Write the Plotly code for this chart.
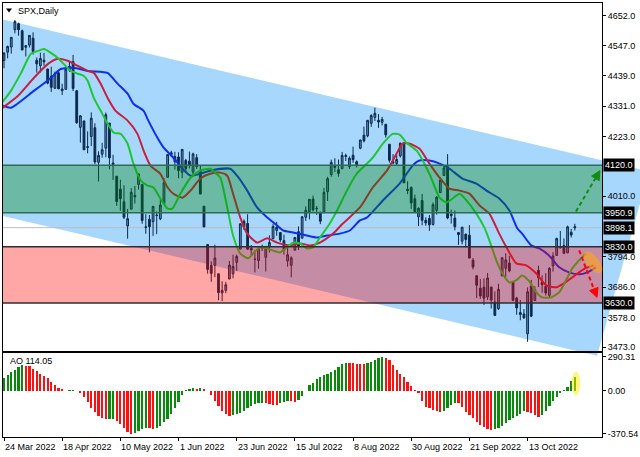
import math
import plotly.graph_objects as go

# ---------------- data ----------------
DATES = [
    "2022-03-24", "2022-03-25", "2022-03-28", "2022-03-29", "2022-03-30", "2022-03-31", "2022-04-01",
    "2022-04-04", "2022-04-05", "2022-04-06", "2022-04-07", "2022-04-08", "2022-04-11", "2022-04-12",
    "2022-04-13", "2022-04-14", "2022-04-18", "2022-04-19", "2022-04-20", "2022-04-21", "2022-04-22",
    "2022-04-25", "2022-04-26", "2022-04-27", "2022-04-28", "2022-04-29", "2022-05-02", "2022-05-03",
    "2022-05-04", "2022-05-05", "2022-05-06", "2022-05-09", "2022-05-10", "2022-05-11", "2022-05-12",
    "2022-05-13", "2022-05-16", "2022-05-17", "2022-05-18", "2022-05-19", "2022-05-20", "2022-05-23",
    "2022-05-24", "2022-05-25", "2022-05-26", "2022-05-27", "2022-05-30", "2022-05-31", "2022-06-01",
    "2022-06-02", "2022-06-03", "2022-06-06", "2022-06-07", "2022-06-08", "2022-06-09", "2022-06-10",
    "2022-06-13", "2022-06-14", "2022-06-15", "2022-06-16", "2022-06-17", "2022-06-20", "2022-06-21",
    "2022-06-22", "2022-06-23", "2022-06-24", "2022-06-27", "2022-06-28", "2022-06-29", "2022-06-30",
    "2022-07-01", "2022-07-04", "2022-07-05", "2022-07-06", "2022-07-07", "2022-07-08", "2022-07-11",
    "2022-07-12", "2022-07-13", "2022-07-14", "2022-07-15", "2022-07-18", "2022-07-19", "2022-07-20",
    "2022-07-21", "2022-07-22", "2022-07-25", "2022-07-26", "2022-07-27", "2022-07-28", "2022-07-29",
    "2022-08-01", "2022-08-02", "2022-08-03", "2022-08-04", "2022-08-05", "2022-08-08", "2022-08-09",
    "2022-08-10", "2022-08-11", "2022-08-12", "2022-08-15", "2022-08-16", "2022-08-17", "2022-08-18",
    "2022-08-19", "2022-08-22", "2022-08-23", "2022-08-24", "2022-08-25", "2022-08-26", "2022-08-29",
    "2022-08-30", "2022-08-31", "2022-09-01", "2022-09-02", "2022-09-05", "2022-09-06", "2022-09-07",
    "2022-09-08", "2022-09-09", "2022-09-12", "2022-09-13", "2022-09-14", "2022-09-15", "2022-09-16",
    "2022-09-19", "2022-09-20", "2022-09-21", "2022-09-22", "2022-09-23", "2022-09-26", "2022-09-27",
    "2022-09-28", "2022-09-29", "2022-09-30", "2022-10-03", "2022-10-04", "2022-10-05", "2022-10-06",
    "2022-10-07", "2022-10-10", "2022-10-11", "2022-10-12", "2022-10-13", "2022-10-14", "2022-10-17",
    "2022-10-18", "2022-10-19", "2022-10-20", "2022-10-21", "2022-10-24", "2022-10-25", "2022-10-26",
    "2022-10-27", "2022-10-28", "2022-10-31", "2022-11-01",
]

OPEN = [
    4493.1, 4522.9, 4541.1, 4602.9, 4624.2, 4599.0, 4540.3, 4548.0, 4572.5, 4494.2, 4474.7, 4494.2,
    4462.6, 4437.6, 4394.3, 4449.1, 4385.6, 4390.6, 4472.3, 4489.2, 4385.8, 4255.3, 4278.1, 4186.5,
    4222.6, 4253.8, 4130.6, 4159.8, 4181.2, 4270.4, 4128.2, 4081.3, 4035.2, 3990.1, 3904.0, 3963.9,
    4013.0, 4052.0, 4052.0, 3899.0, 3927.8, 3919.4, 3942.9, 3929.6, 3984.6, 4077.4, 4158.2, 4151.1,
    4149.8, 4095.4, 4137.6, 4134.7, 4096.5, 4147.1, 4101.7, 3974.4, 3838.2, 3763.5, 3764.1, 3733.9,
    3665.9, 3675.0, 3715.3, 3733.9, 3774.7, 3821.8, 3920.8, 3913.0, 3825.1, 3786.0, 3781.0, 3825.3,
    3792.6, 3832.0, 3858.9, 3888.3, 3880.9, 3852.0, 3779.7, 3764.0, 3818.0, 3883.8, 3860.7, 3935.3,
    3955.5, 4000.0, 3965.7, 3953.2, 3951.4, 4026.1, 4087.3, 4112.4, 4104.2, 4108.0, 4154.9, 4115.9,
    4155.9, 4133.1, 4181.0, 4227.4, 4225.0, 4269.4, 4290.5, 4280.4, 4273.1, 4266.3, 4195.1, 4133.1,
    4126.6, 4153.3, 4198.7, 4034.6, 4041.3, 4000.7, 3936.7, 3994.7, 3924.3, 3930.9, 3909.4, 3959.9,
    4022.9, 4083.7, 4115.0, 3940.7, 3932.4, 3881.0, 3849.9, 3875.2, 3871.4, 3782.4, 3727.1, 3682.7,
    3686.4, 3651.9, 3687.0, 3633.5, 3609.8, 3726.5, 3753.3, 3772.0, 3706.7, 3647.5, 3595.9, 3590.8,
    3520.4, 3690.4, 3638.7, 3746.3, 3703.1, 3689.1, 3657.1, 3762.0, 3799.4, 3826.0, 3834.7, 3808.3,
    3881.9, 3901.8,
]
HIGH = [
    4520.6, 4546.0, 4575.7, 4637.3, 4627.8, 4603.1, 4548.7, 4583.5, 4593.5, 4503.9, 4521.2, 4520.4,
    4464.4, 4471.0, 4453.9, 4460.5, 4410.3, 4471.5, 4488.3, 4512.9, 4385.8, 4299.0, 4278.1, 4240.7,
    4308.5, 4269.7, 4169.8, 4200.1, 4307.7, 4270.4, 4157.7, 4081.3, 4068.8, 4049.1, 3964.8, 4038.9,
    4046.5, 4090.7, 4052.0, 3946.0, 3943.4, 3975.5, 3955.7, 3999.3, 4075.1, 4158.5, 4172.0, 4168.3,
    4166.5, 4177.5, 4142.7, 4168.8, 4164.9, 4160.1, 4119.1, 3974.4, 3838.2, 3778.2, 3837.6, 3733.9,
    3707.7, 3705.0, 3779.7, 3801.8, 3802.6, 3913.7, 3927.7, 3945.9, 3836.5, 3818.0, 3829.8, 3838.0,
    3832.2, 3870.9, 3910.6, 3918.5, 3880.9, 3873.4, 3829.4, 3796.4, 3863.6, 3902.4, 3939.8, 3974.1,
    3999.3, 4012.4, 3975.3, 3953.2, 4039.6, 4079.0, 4140.2, 4145.0, 4140.5, 4167.7, 4161.3, 4151.6,
    4186.6, 4137.3, 4211.0, 4257.9, 4280.5, 4301.8, 4325.3, 4302.2, 4292.5, 4266.3, 4195.1, 4159.8,
    4156.6, 4200.5, 4203.0, 4063.0, 4045.0, 4015.4, 3970.2, 4018.4, 3935.0, 3942.6, 3987.9, 4010.5,
    4076.8, 4119.3, 4160.0, 3961.9, 3959.1, 3881.0, 3900.4, 3876.0, 3907.1, 3790.3, 3727.1, 3715.7,
    3717.5, 3736.7, 3687.0, 3671.4, 3698.4, 3791.9, 3806.9, 3797.9, 3706.7, 3652.2, 3640.7, 3608.3,
    3685.4, 3712.0, 3689.7, 3762.8, 3728.6, 3736.0, 3757.9, 3810.7, 3862.8, 3886.2, 3860.0, 3905.4,
    3893.7, 3911.8,
]
LOW = [
    4465.4, 4501.1, 4517.7, 4589.7, 4581.3, 4530.4, 4507.6, 4539.2, 4514.2, 4450.0, 4450.3, 4474.6,
    4408.4, 4381.3, 4392.7, 4390.8, 4370.3, 4390.6, 4452.7, 4384.5, 4267.6, 4200.8, 4175.0, 4162.9,
    4188.6, 4124.3, 4062.5, 4147.1, 4148.9, 4106.0, 4067.9, 3975.5, 3958.2, 3928.8, 3858.9, 3963.9,
    3984.0, 4033.9, 3911.9, 3876.6, 3810.3, 3868.9, 3875.1, 3925.0, 3984.6, 4077.4, 4150.0, 4104.9,
    4073.9, 4074.4, 4098.7, 4109.2, 4080.2, 4107.2, 4017.2, 3900.2, 3734.3, 3705.7, 3722.3, 3639.8,
    3636.9, 3665.0, 3715.3, 3717.7, 3743.5, 3821.8, 3889.7, 3820.1, 3799.0, 3738.7, 3752.1, 3815.0,
    3742.1, 3809.4, 3858.9, 3869.3, 3847.2, 3802.4, 3759.1, 3721.6, 3817.2, 3818.6, 3860.7, 3922.0,
    3927.6, 3955.8, 3943.5, 3910.7, 3951.4, 3993.0, 4079.2, 4096.0, 4079.8, 4108.0, 4135.4, 4107.3,
    4129.0, 4112.1, 4177.3, 4201.4, 4219.8, 4256.9, 4277.8, 4253.1, 4262.0, 4218.7, 4129.9, 4124.0,
    4120.0, 4147.6, 4057.7, 4017.4, 3965.2, 3954.5, 3903.7, 3906.2, 3905.0, 3886.8, 3906.0, 3944.8,
    4022.9, 4083.7, 3928.0, 3912.6, 3888.3, 3837.1, 3838.5, 3827.5, 3789.5, 3749.5, 3647.5, 3644.8,
    3623.3, 3640.6, 3610.4, 3584.1, 3604.9, 3726.5, 3722.7, 3739.2, 3636.2, 3588.1, 3568.5, 3573.9,
    3491.6, 3579.7, 3638.7, 3686.5, 3666.5, 3656.4, 3647.4, 3741.7, 3799.4, 3824.1, 3803.8, 3808.3,
    3863.2, 3888.0,
]
CLOSE = [
    4520.2, 4543.1, 4575.5, 4631.6, 4602.5, 4530.4, 4545.9, 4582.6, 4525.1, 4481.2, 4500.2, 4488.3,
    4412.5, 4397.5, 4446.6, 4392.6, 4391.7, 4462.2, 4459.5, 4393.7, 4271.8, 4296.1, 4175.2, 4184.0,
    4287.5, 4131.9, 4155.4, 4175.5, 4300.2, 4146.9, 4123.3, 3991.2, 4001.1, 3935.2, 3930.1, 4023.9,
    4008.0, 4088.9, 3923.7, 3900.8, 3901.4, 3973.8, 3941.5, 3978.7, 4057.8, 4158.2, 4165.0, 4132.2,
    4101.2, 4176.8, 4108.5, 4121.4, 4160.7, 4115.8, 4017.8, 3900.9, 3749.6, 3735.5, 3790.0, 3666.8,
    3674.8, 3695.0, 3764.8, 3759.9, 3795.7, 3911.7, 3900.1, 3821.6, 3818.8, 3785.4, 3825.3, 3830.0,
    3831.4, 3845.1, 3902.6, 3899.4, 3854.4, 3818.8, 3801.8, 3790.4, 3863.2, 3830.9, 3936.7, 3959.9,
    3999.0, 3961.6, 3966.8, 3921.1, 4023.6, 4072.4, 4130.3, 4118.6, 4091.2, 4155.2, 4151.9, 4145.2,
    4140.1, 4122.5, 4210.2, 4207.3, 4280.2, 4297.1, 4305.2, 4274.0, 4283.7, 4228.5, 4138.0, 4128.7,
    4140.8, 4199.1, 4057.7, 4030.6, 3986.2, 3955.0, 3966.9, 3924.3, 3915.0, 3908.2, 3979.9, 4006.2,
    4067.4, 4110.4, 3932.7, 3946.0, 3901.4, 3873.3, 3899.9, 3855.9, 3789.9, 3758.0, 3693.2, 3655.0,
    3647.3, 3719.0, 3640.5, 3585.6, 3678.4, 3790.9, 3783.3, 3744.5, 3639.7, 3612.4, 3588.8, 3577.0,
    3669.9, 3583.1, 3678.0, 3720.0, 3695.2, 3665.8, 3752.8, 3797.3, 3859.1, 3830.6, 3807.3, 3901.1,
    3872.0, 3898.1,
]

AO = [
    108, 136, 160, 180, 200, 215, 214, 208, 188, 168, 146, 126, 104, 75, 47, 24, 10, -3, 3, 8,
    -2, -24, -58, -100, -145, -185, -215, -235, -245, -242, -240, -258, -285, -320, -350, -370.54,
    -362, -345, -330, -318, -322, -324, -318, -300, -272, -240, -200, -150, -95, -40, 8, 15, 20, 18,
    25, 10, -5, -38, -85, -132, -175, -203, -217, -212, -203, -189, -170, -151, -132, -118, -109,
    -104, -109, -115, -121, -123, -109, -94, -85, -90, -94, -76, -47, -5, 47, 67, 95, 112, 132, 146,
    160, 180, 203, 226, 240, 237, 235, 231, 226, 223, 233, 248, 262, 276, 290.31, 282, 260, 217,
    180, 146, 112, 75, 38, 5, -24, -87, -138, -152, -166, -175, -180, -172, -152, -124, -104, -109,
    -138, -180, -209, -237, -266, -294, -314, -330, -337, -330, -318, -300, -278, -255, -235, -213,
    -196, -172, -180, -195, -209, -223, -205, -170, -130, -90, -55, -22, 2, 33, 80, 114.05,
]

# Alligator lines: (bar index, price)
JAW = [
    (-0.3, 4332), (1.9, 4325), (8.2, 4385), (12.9, 4431), (15.6, 4463), (19.2, 4467), (23.0, 4456),
    (26.6, 4453), (28.5, 4449), (31.3, 4410), (34.0, 4375), (35.6, 4339), (38.4, 4314), (39.7, 4279),
    (42.2, 4218), (43.9, 4183), (46.6, 4147), (49.1, 4108), (51.3, 4083), (54.0, 4090), (56.7, 4101),
    (62.2, 4108), (64.1, 4083), (66.9, 4030), (69.6, 3970), (72.4, 3934), (75.1, 3906), (76.8, 3888),
    (79.5, 3881), (83.3, 3870), (86.1, 3863), (88.8, 3870), (92.4, 3877), (95.1, 3888), (97.9, 3924),
    (99.8, 3934), (104.2, 3995), (108.8, 4055), (112.4, 4119), (114.3, 4137), (117.0, 4137),
    (119.8, 4126), (122.5, 4108), (126.1, 4073), (129.9, 4055), (132.7, 4030), (136.2, 4002),
    (139.0, 3959), (141.2, 3895), (142.5, 3877), (145.0, 3835), (147.2, 3824), (149.9, 3799),
    (152.7, 3757), (155.4, 3739), (158.2, 3732), (160.4, 3739), (162.8, 3757),
]
TEETH = [
    (-0.8, 4321), (3.8, 4367), (8.2, 4431), (12.1, 4481), (14.8, 4499), (17.5, 4492), (20.3, 4474),
    (23.0, 4456), (24.7, 4449), (26.6, 4410), (28.5, 4360), (30.7, 4314), (34.0, 4279), (36.7, 4232),
    (38.4, 4172), (40.3, 4119), (43.0, 4090), (45.0, 4041), (46.6, 4019), (49.1, 4005), (51.3, 4030),
    (54.0, 4073), (56.7, 4090), (59.5, 4094), (61.4, 4083), (63.0, 4019), (65.0, 3934), (66.9, 3877),
    (69.6, 3845), (72.4, 3860), (75.1, 3845), (78.7, 3835), (81.4, 3842), (84.2, 3835), (86.9, 3845),
    (90.5, 3877), (93.2, 3913), (97.9, 3970), (101.4, 4041), (105.3, 4101), (108.0, 4162),
    (109.6, 4197), (111.6, 4197), (114.3, 4179), (117.0, 4126), (119.8, 4076), (122.5, 4037),
    (125.3, 4030), (128.0, 4019), (130.8, 3977), (133.5, 3948), (135.4, 3899), (136.2, 3877),
    (138.2, 3828), (140.9, 3771), (143.6, 3764), (146.4, 3735), (149.1, 3693), (151.9, 3686),
    (154.0, 3700), (157.0, 3728), (159.8, 3753), (162.2, 3764),
]
LIPS = [
    (-0.8, 4339), (1.9, 4385), (4.7, 4449), (7.4, 4517), (9.3, 4527), (11.0, 4534), (12.9, 4520),
    (14.8, 4502), (16.4, 4481), (18.4, 4456), (20.3, 4446), (21.9, 4439), (23.0, 4421), (24.7, 4360),
    (26.6, 4314), (28.5, 4268), (30.2, 4236), (32.1, 4232), (34.0, 4197), (35.6, 4126), (37.6, 4066),
    (39.5, 4048), (41.1, 4041), (43.0, 4002), (45.0, 3966), (46.3, 3966), (48.5, 4019), (51.3, 4076),
    (54.0, 4101), (56.7, 4108), (58.1, 4094), (59.5, 4076), (61.4, 3970), (63.0, 3870), (65.0, 3806),
    (67.2, 3789), (68.5, 3806), (70.4, 3828), (72.4, 3824), (75.9, 3810), (77.9, 3828), (79.5, 3845),
    (81.4, 3842), (83.3, 3824), (85.0, 3828), (86.9, 3863), (89.6, 3913), (91.6, 3959), (94.3, 4030),
    (97.0, 4090), (101.4, 4147), (104.2, 4197), (106.9, 4232), (108.8, 4229), (110.7, 4200),
    (113.5, 4172), (117.0, 4090), (119.8, 4005), (121.7, 3988), (123.4, 4002), (125.3, 4019),
    (127.2, 3995), (129.9, 3948), (132.1, 3899), (133.5, 3853), (135.4, 3782), (137.1, 3735),
    (139.0, 3703), (140.9, 3711), (142.5, 3728), (144.5, 3707), (146.4, 3668), (148.0, 3650),
    (150.5, 3650), (152.7, 3668), (154.6, 3711), (156.3, 3753), (158.2, 3782), (160.1, 3806),
]

PRICE_TICKS = [4652, 4547, 4439, 4331, 4223, 4010, 3794, 3686, 3578, 3473]
DATE_LABELS = ["24 Mar 2022", "18 Apr 2022", "10 May 2022", "1 Jun 2022", "23 Jun 2022",
               "15 Jul 2022", "8 Aug 2022", "30 Aug 2022", "21 Sep 2022", "13 Oct 2022"]
LABEL_DATES = ["2022-03-24", "2022-04-18", "2022-05-10", "2022-06-01", "2022-06-23",
               "2022-07-15", "2022-08-08", "2022-08-30", "2022-09-21", "2022-10-13"]
GREEN_ZONE = (3950.9, 4120.0)
RED_ZONE = (3630.0, 3830.0)
CURRENT_PRICE = 3898.1

# drawn objects (bar index, price)
CHANNEL_UPPER = [(-0.27, 4639.2), (177.4, 4098.3)]
CHANNEL_LOWER = [(-0.27, 3939.6), (163.1, 3442.4)]
UP_ARROW = [(157.3, 3956), (163.9, 4101)]
DOWN_ARROW = [(158.2, 3817), (163.1, 3650)]
FOCUS_PRICE = (162.0, 3774.5)
FOCUS_AO = (157.3, 61)

# ---------------- geometry ----------------
W, H = 640, 457
L, R, T, B = 2, 603, 2, 437
P_BOTTOM, AO_TOP = 351, 352.5
XMIN, XMAX = -0.274, 164.47
PMIN, PMAX = 3458.4, 4697.8
AMIN, AMAX = -396.2, 323.8
FONT = "Liberation Sans"


def px_x(i):
    return L + (i - XMIN) / (XMAX - XMIN) * (R - L)


def px_y(p):
    return T + (PMAX - p) / (PMAX - PMIN) * (P_BOTTOM - T)


def px_ao(v):
    return AO_TOP + (AMAX - v) / (AMAX - AMIN) * (B - AO_TOP)


def paper(px, py):
    return (px - L) / (R - L), (B - py) / (B - T)


def path_from_px(points, close=True):
    parts = []
    for k, (a, b) in enumerate(points):
        u, v = paper(a, b)
        parts.append(("M" if k == 0 else "L") + f"{u:.5f},{v:.5f}")
    return " ".join(parts) + (" Z" if close else "")


def ellipse_px(cx, cy, ra, rb, ang_deg, n=36):
    a = math.radians(ang_deg)
    pts = []
    for k in range(n):
        t = 2 * math.pi * k / n
        x = ra * math.cos(t)
        y = rb * math.sin(t)
        pts.append((cx + x * math.cos(a) - y * math.sin(a), cy + x * math.sin(a) + y * math.cos(a)))
    return pts


idx = list(range(len(DATES)))
DARK = "#0b2b4d"

fig = go.Figure()

fig.add_trace(go.Candlestick(
    x=idx, open=OPEN, high=HIGH, low=LOW, close=CLOSE,
    increasing=dict(line=dict(color=DARK, width=1), fillcolor="#5c8ab2"),
    decreasing=dict(line=dict(color=DARK, width=1), fillcolor=DARK),
    whiskerwidth=0, xaxis="x", yaxis="y", hoverinfo="skip", showlegend=False,
))

for series, color in ((JAW, "#1030e8"), (TEETH, "#c8203c"), (LIPS, "#1ec832")):
    fig.add_trace(go.Scatter(
        x=[a for a, _ in series], y=[b for _, b in series], mode="lines",
        line=dict(color=color, width=2, shape="spline", smoothing=0.6),
        xaxis="x", yaxis="y", hoverinfo="skip", showlegend=False,
    ))

ao_colors = []
for k, v in enumerate(AO):
    ao_colors.append("#0a8a0a" if k == 0 or v > AO[k - 1] else "#ff1010")
fig.add_trace(go.Bar(
    x=idx, y=AO, marker=dict(color=ao_colors, line=dict(width=0)), width=0.62,
    xaxis="x2", yaxis="y2", hoverinfo="skip", showlegend=False,
))

shapes = []
# channel (extends past the plot frame like in the source)
ch_px = [(px_x(CHANNEL_UPPER[0][0]), px_y(CHANNEL_UPPER[0][1])),
         (px_x(CHANNEL_UPPER[1][0]), px_y(CHANNEL_UPPER[1][1])),
         (px_x(CHANNEL_LOWER[1][0]), px_y(CHANNEL_LOWER[1][1])),
         (px_x(CHANNEL_LOWER[0][0]), px_y(CHANNEL_LOWER[0][1]))]
ch_px = [(max(a, L), b) for a, b in ch_px]
shapes.append(dict(type="path", xref="paper", yref="paper", path=path_from_px(ch_px),
                   fillcolor="#a7d7fd", line=dict(width=0), layer="below"))
# current price line
shapes.append(dict(type="line", xref="x", yref="y", x0=XMIN, x1=XMAX, y0=CURRENT_PRICE, y1=CURRENT_PRICE,
                   line=dict(color="#bdbdbd", width=1), layer="below"))
# zones (translucent overlays)
shapes.append(dict(type="rect", xref="x", yref="y", x0=XMIN, x1=XMAX, y0=GREEN_ZONE[0], y1=GREEN_ZONE[1],
                   fillcolor="rgba(0,128,0,0.35)", line=dict(width=0), layer="above"))
shapes.append(dict(type="rect", xref="x", yref="y", x0=XMIN, x1=XMAX, y0=RED_ZONE[0], y1=RED_ZONE[1],
                   fillcolor="rgba(255,0,0,0.35)", line=dict(width=0), layer="above"))
for lvl in GREEN_ZONE:
    shapes.append(dict(type="line", xref="x", yref="y", x0=XMIN, x1=XMAX, y0=lvl, y1=lvl,
                       line=dict(color="#2d6b52", width=1.5), layer="above"))
for lvl in RED_ZONE:
    shapes.append(dict(type="line", xref="x", yref="y", x0=XMIN, x1=XMAX, y0=lvl, y1=lvl,
                       line=dict(color="#2e2e2e", width=1.5), layer="above"))


def arrow(seg, color):
    (i0, p0), (i1, p1) = seg
    x0, y0, x1, y1 = px_x(i0), px_y(p0), px_x(i1), px_y(p1)
    d = math.hypot(x1 - x0, y1 - y0)
    ux, uy = (x1 - x0) / d, (y1 - y0) / d
    hl, hw = 9.0, 4.5
    bx, by = x1 - hl * ux, y1 - hl * uy
    nx, ny = -uy, ux
    out = [dict(type="path", xref="paper", yref="paper", path=path_from_px([(x0, y0), (bx, by)], close=False),
                line=dict(color=color, width=2, dash="4px,3px"), layer="above"),
           dict(type="path", xref="paper", yref="paper",
                path=path_from_px([(x1, y1), (bx + hw * nx, by + hw * ny), (bx - hw * nx, by - hw * ny)]),
                fillcolor=color, line=dict(color=color, width=1), layer="above")]
    return out


shapes += arrow(UP_ARROW, "#148c14")
shapes += arrow(DOWN_ARROW, "#ff0000")
shapes.append(dict(type="path", xref="paper", yref="paper",
                   path=path_from_px(ellipse_px(px_x(FOCUS_PRICE[0]), px_y(FOCUS_PRICE[1]), 13, 6, 52)),
                   fillcolor="rgba(255,168,20,0.6)", line=dict(width=0), layer="above"))
shapes.append(dict(type="path", xref="paper", yref="paper",
                   path=path_from_px(ellipse_px(px_x(FOCUS_AO[0]), px_ao(FOCUS_AO[1]), 4.3, 11.8, 0)),
                   fillcolor="rgba(255,235,0,0.5)", line=dict(width=0), layer="above"))
# small title triangle
shapes.append(dict(type="path", xref="paper", yref="paper",
                   path=path_from_px([(5, 7.5), (11, 7.5), (8, 11.5)]),
                   fillcolor="#000", line=dict(width=0), layer="above"))

ann = []
fs = 9
ann.append(dict(text="SPX,Daily", xref="paper", yref="paper", x=paper(15, 0)[0], y=paper(0, 10)[1],
                xanchor="left", yanchor="middle", showarrow=False, font=dict(family=FONT, size=fs, color="#000")))
ann.append(dict(text=f"AO {AO[-1]:.2f}", xref="paper", yref="paper", x=paper(7, 0)[0], y=paper(0, 361)[1],
                xanchor="left", yanchor="middle", showarrow=False, font=dict(family=FONT, size=fs, color="#000")))
label_idx = [DATES.index(d) for d in LABEL_DATES]
for k, txt in zip(label_idx, DATE_LABELS):
    ann.append(dict(text=txt, xref="x2", yref="paper", x=k, y=paper(0, 447)[1], xanchor="left",
                    yanchor="middle", showarrow=False, xshift=-1,
                    font=dict(family=FONT, size=fs, color="#000")))
for lvl in (GREEN_ZONE[1], GREEN_ZONE[0], CURRENT_PRICE, RED_ZONE[1], RED_ZONE[0]):
    ann.append(dict(text=f"{lvl:.1f}", xref="paper", yref="y", x=paper(604, 0)[0], y=lvl,
                    xanchor="left", yanchor="middle", showarrow=False, bgcolor="#000", borderpad=1,
                    font=dict(family=FONT, size=fs, color="#fff")))

axis_common = dict(showgrid=False, zeroline=False, showline=True, mirror=True, linecolor="#000",
                   linewidth=1, fixedrange=True)
fig.update_layout(
    width=W, height=H, margin=dict(l=L, r=W - R, t=T, b=H - B, pad=0),
    paper_bgcolor="#fff", plot_bgcolor="rgba(0,0,0,0)", showlegend=False, bargap=0,
    xaxis=dict(domain=[0, 1], range=[XMIN, XMAX], anchor="y", showticklabels=False, ticks="",
               rangeslider=dict(visible=False), **axis_common),
    yaxis=dict(domain=[(B - P_BOTTOM) / (B - T), 1], range=[PMIN, PMAX], side="right", anchor="x",
               tickvals=PRICE_TICKS, ticktext=[f"{v:.1f}" for v in PRICE_TICKS], ticks="outside",
               ticklen=3, tickcolor="#000", tickfont=dict(family=FONT, size=fs, color="#000"), **axis_common),
    xaxis2=dict(domain=[0, 1], range=[XMIN, XMAX], anchor="y2", tickvals=label_idx, showticklabels=False,
                ticks="outside", ticklen=3, tickcolor="#000", **axis_common),
    yaxis2=dict(domain=[0, (B - AO_TOP) / (B - T)], range=[AMIN, AMAX], side="right", anchor="x2",
                tickvals=[max(AO), 0, min(AO)], ticktext=[f"{v:.2f}" for v in (max(AO), 0, min(AO))],
                ticks="outside", ticklen=3, tickcolor="#000",
                tickfont=dict(family=FONT, size=fs, color="#000"), **axis_common),
    shapes=shapes, annotations=ann,
)

fig.write_html(
    "out.html",
    config={"displayModeBar": False, "staticPlot": True},
    post_script="document.body.style.margin='0px';document.body.style.padding='0px';"
                "document.documentElement.style.overflow='hidden';",
)
